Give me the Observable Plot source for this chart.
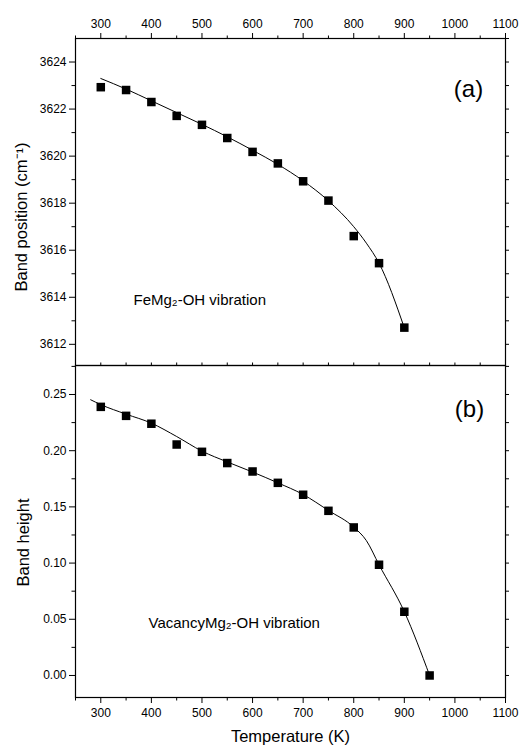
<!DOCTYPE html>
<html><head><meta charset="utf-8">
<script src="https://cdn.jsdelivr.net/npm/d3@7"></script>
<script src="https://cdn.jsdelivr.net/npm/@observablehq/plot@0.6"></script>
<style>
body{margin:0;background:#fff}
#chart{position:relative;width:523px;height:746px;background:#fff}
#chart svg{position:absolute;left:0}
</style>
</head><body><div id="chart"></div>
<script>
// Panel (a): FeMg2-OH band position
const temperaturesA = [300, 350, 400, 450, 500, 550, 600, 650, 700, 750, 800, 850, 900];
const bandPosition = [3622.93, 3622.81, 3622.30, 3621.71, 3621.33, 3620.77, 3620.18, 3619.69, 3618.93, 3618.11, 3616.60, 3615.45, 3612.71];
const fitTempA = [300, 350, 400, 450, 500, 550, 600, 650, 700, 750, 800, 825, 850, 900];
const fitPositionA = [3623.3, 3622.85, 3622.35, 3621.85, 3621.35, 3620.82, 3620.25, 3619.65, 3618.95, 3618.1, 3617.0, 3616.3, 3615.45, 3612.7];

// Panel (b): VacancyMg2-OH band height
const temperaturesB = [300, 350, 400, 450, 500, 550, 600, 650, 700, 750, 800, 850, 900, 950];
const bandHeight = [0.239, 0.231, 0.224, 0.2055, 0.199, 0.189, 0.1815, 0.1714, 0.1608, 0.1465, 0.1317, 0.0985, 0.0567, 0.0];
const fitTempB = [280, 300, 350, 400, 450, 500, 550, 600, 650, 700, 750, 800, 825, 850, 900, 950];
const fitHeightB = [0.2453, 0.241, 0.2325, 0.2245, 0.2126, 0.1996, 0.19, 0.181, 0.1714, 0.161, 0.1468, 0.132, 0.12, 0.0985, 0.0567, 0.0];

// Ticks
const xMajorTicks = [300, 400, 500, 600, 700, 800, 900, 1000, 1100];
const xMinorTicks = [250, 350, 450, 550, 650, 750, 850, 950, 1050];
const yMajorTicksA = [3612, 3614, 3616, 3618, 3620, 3622, 3624];
const yMinorTicksA = [3613, 3615, 3617, 3619, 3621, 3623];
const yAllTicksA = [3612, 3613, 3614, 3615, 3616, 3617, 3618, 3619, 3620, 3621, 3622, 3623, 3624, 3625];
const yMajorTicksB = [0.00, 0.05, 0.10, 0.15, 0.20, 0.25];
const yMinorTicksB = [0.025, 0.075, 0.125, 0.175, 0.225, 0.275];
const yAllTicksB = [0.0, 0.025, 0.05, 0.075, 0.10, 0.125, 0.15, 0.175, 0.20, 0.225, 0.25, 0.275];

// Labels
const xLabel = "Temperature (K)";
const yLabelA = "Band position (cm\u207B\u00B9)";
const yLabelB = "Band height";
const annotationA = "FeMg\u2082-OH vibration";
const annotationB = "VacancyMg\u2082-OH vibration";
const panelA = "(a)";
const panelB = "(b)";

const pointsA = temperaturesA.map((t, i) => ({t, v: bandPosition[i]}));
const fitA = fitTempA.map((t, i) => ({t, v: fitPositionA[i]}));
const pointsB = temperaturesB.map((t, i) => ({t, v: bandHeight[i]}));
const fitB = fitTempB.map((t, i) => ({t, v: fitHeightB[i]}));

const FONT = "'Liberation Sans', Arial, Helvetica, sans-serif";
const common = {
  width: 523,
  marginLeft: 75,
  marginRight: 18,
  x: {domain: [250, 1100], label: null},
  style: {fontFamily: FONT, fontSize: "12px", color: "black", background: "transparent", overflow: "visible"}
};
const blank = () => "";

const plotA = Plot.plot({
  ...common,
  height: 365,
  marginTop: 38,
  marginBottom: 0,
  y: {domain: [3611.1, 3625], label: null},
  marks: [
    Plot.axisX({anchor: "top", ticks: xMajorTicks, tickSize: 6, tickPadding: 5, tickFormat: "d", label: null}),
    Plot.axisX({anchor: "top", ticks: xMinorTicks, tickSize: 3.5, tickFormat: blank, label: null}),
    Plot.axisY({anchor: "left", ticks: yMajorTicksA, tickSize: 6, tickPadding: 3, tickFormat: "d", label: null}),
    Plot.axisY({anchor: "left", ticks: yMinorTicksA, tickSize: 3.5, tickFormat: blank, label: null}),
    Plot.axisY({anchor: "right", ticks: yAllTicksA, tickSize: 3, tickFormat: blank, label: null}),
    Plot.line(fitA, {x: "t", y: "v", curve: "monotone-x", stroke: "black", strokeWidth: 1}),
    Plot.dot(pointsA, {x: "t", y: "v", symbol: "square", r: 4.8, fill: "black"}),
    Plot.text([panelA], {frameAnchor: "top-right", dx: -37, dy: 51, fontSize: 24, textAnchor: "middle", lineAnchor: "middle"}),
    Plot.text([annotationA], {frameAnchor: "top-left", dx: 58, dy: 262, fontSize: 15, textAnchor: "start", lineAnchor: "middle"}),
    Plot.text([yLabelA], {frameAnchor: "left", rotate: -90, dx: -54, dy: 15, fontSize: 16.5, textAnchor: "middle", lineAnchor: "middle"}),
    Plot.frame({stroke: "black", strokeWidth: 1.2})
  ]
});

const plotB = Plot.plot({
  ...common,
  height: 385,
  marginTop: 4,
  marginBottom: 49,
  y: {domain: [-0.0196, 0.2758], label: null},
  marks: [
    Plot.axisX({anchor: "top", ticks: xMinorTicks.concat(xMajorTicks), tickSize: 3.5, tickFormat: blank, label: null}),
    Plot.axisX({anchor: "bottom", ticks: xMajorTicks, tickSize: 6, tickPadding: 5, tickFormat: "d", label: null}),
    Plot.axisX({anchor: "bottom", ticks: xMinorTicks, tickSize: 3.5, tickFormat: blank, label: null}),
    Plot.axisY({anchor: "left", ticks: yMajorTicksB, tickSize: 6, tickPadding: 3, tickFormat: ".2f", label: null}),
    Plot.axisY({anchor: "left", ticks: yMinorTicksB, tickSize: 3.5, tickFormat: blank, label: null}),
    Plot.axisY({anchor: "right", ticks: yAllTicksB, tickSize: 3, tickFormat: blank, label: null}),
    Plot.line(fitB, {x: "t", y: "v", curve: "monotone-x", stroke: "black", strokeWidth: 1}),
    Plot.dot(pointsB, {x: "t", y: "v", symbol: "square", r: 4.8, fill: "black"}),
    Plot.text([panelB], {frameAnchor: "top-right", dx: -36, dy: 44, fontSize: 24, textAnchor: "middle", lineAnchor: "middle"}),
    Plot.text([annotationB], {frameAnchor: "top-left", dx: 73, dy: 258, fontSize: 15, textAnchor: "start", lineAnchor: "middle"}),
    Plot.text([yLabelB], {frameAnchor: "left", rotate: -90, dx: -52, dy: 11, fontSize: 16.5, textAnchor: "middle", lineAnchor: "middle"}),
    Plot.text([xLabel], {frameAnchor: "bottom", dy: 39, fontSize: 16.5, textAnchor: "middle", lineAnchor: "middle"}),
    Plot.frame({stroke: "black", strokeWidth: 1.2})
  ]
});

const chart = document.getElementById("chart");
plotA.style.top = "0px";
plotB.style.top = "361px";
chart.appendChild(plotA);
chart.appendChild(plotB);
</script>
</body></html>
